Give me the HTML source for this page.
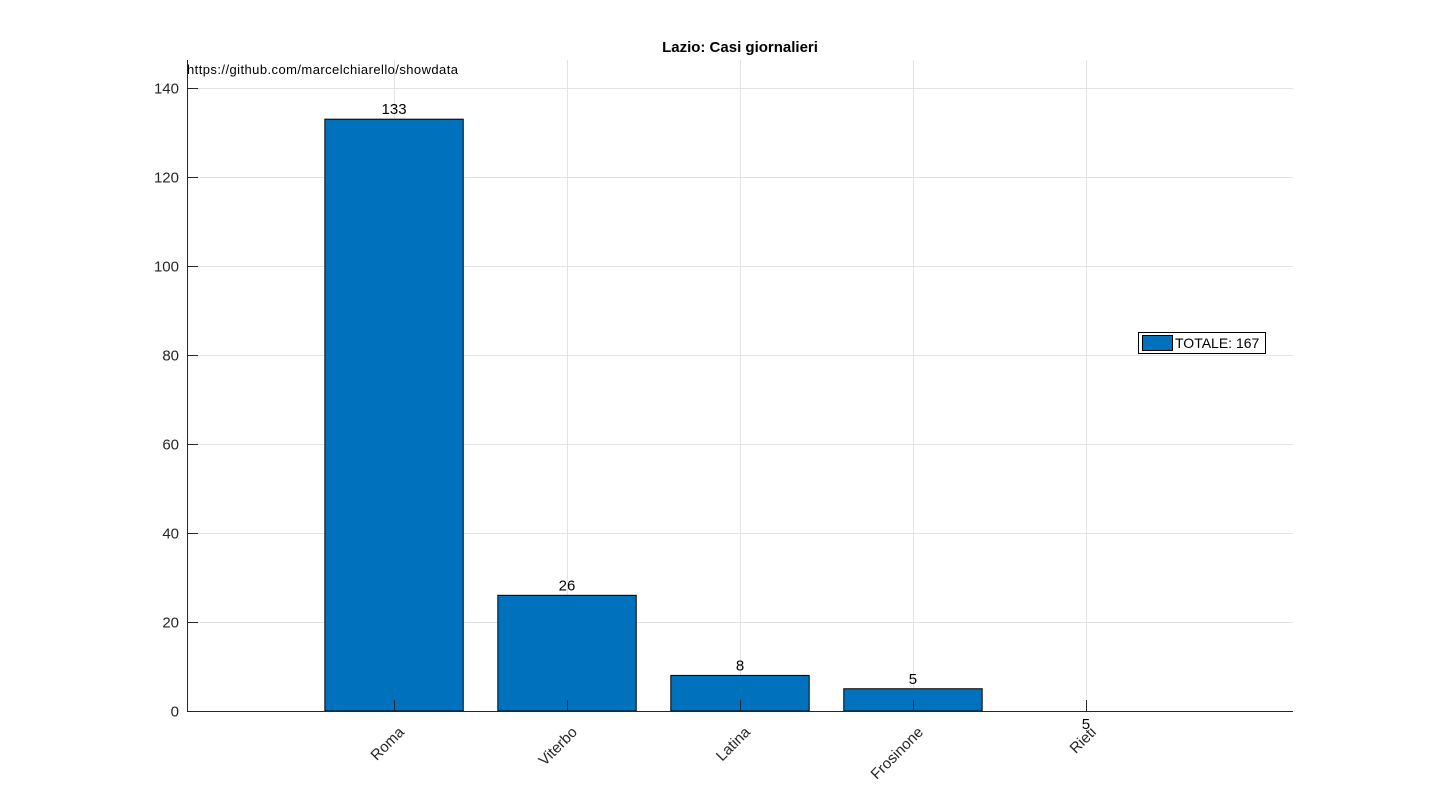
<!DOCTYPE html>
<html><head><meta charset="utf-8"><style>
body{margin:0;background:#fff;width:1430px;height:800px;overflow:hidden}
svg text{font-family:"Liberation Sans",Arial,sans-serif}
</style></head><body>
<svg id="chart" width="1430" height="800" xmlns="http://www.w3.org/2000/svg">
<rect width="1430" height="800" fill="#fff"/>
<text x="740" y="52" text-anchor="middle" font-size="15" font-weight="bold" fill="#000">Lazio: Casi giornalieri</text>
<g id="grid"></g><g id="bars"></g><g id="axes"></g>
<text x="187" y="74" font-size="13" fill="#000" textLength="271">https://github.com/marcelchiarello/showdata</text>
<g>
<rect x="1138.5" y="332.5" width="127" height="21" fill="#fff" stroke="#000" stroke-width="1"/>
<rect x="1142.5" y="335.5" width="30" height="15" fill="#0072BD" stroke="#000" stroke-width="1"/>
<text x="1175" y="348" font-size="14" fill="#000">TOTALE: 167</text>
</g>
</svg>
<script>
const categories=["Roma","Viterbo","Latina","Frosinone","Rieti"];
const values=[133,26,8,5,0];
const valueLabels=["133","26","8","5","5"];
const yTicks=[0,20,40,60,80,100,120,140];
const L=187,R=1293,T=60,B=711,Y0=0,Y1=146.3,X0=1-1.197,X1=5+1.197;
const xs=i=>L+(i+1-X0)/(X1-X0)*(R-L);
const ys=v=>B-(v-Y0)/(Y1-Y0)*(B-T);
const NS="http://www.w3.org/2000/svg";
function mk(tag,attrs,parent,txt){const e=document.createElementNS(NS,tag);for(const k in attrs)e.setAttribute(k,attrs[k]);if(txt!==undefined)e.textContent=txt;parent.appendChild(e);return e;}
const grid=document.getElementById('grid'),bars=document.getElementById('bars'),axes=document.getElementById('axes');
const uw=(R-L)/(X1-X0);
yTicks.forEach(v=>{const y=Math.round(ys(v))+0.5;
 const g=mk('line',{x1:L,x2:R,y1:y,y2:y,stroke:'#e3e3e3','stroke-width':1},grid);
 
 const t=mk('line',{x1:L,x2:L+11,y1:y,y2:y,stroke:'#262626','stroke-width':1},axes);
 
 const l=mk('text',{x:L-8,y:y+5,'text-anchor':'end','font-size':15,fill:'#262626'},axes,String(v));
 
});
categories.forEach((c,i)=>{const x=Math.round(xs(i))+0.5;
 const g=mk('line',{x1:x,x2:x,y1:T,y2:B,stroke:'#e3e3e3','stroke-width':1},grid);
 
 const w=0.8*uw,y=ys(values[i]);
 const b=mk('rect',{x:xs(i)-w/2,y:Math.min(y,B),width:w,height:Math.abs(B-y),fill:'#0072BD',stroke:'#000','stroke-width':1},bars);
 
 const vl=mk('text',{x:xs(i),y:values[i]>0?y-5:B+18,'text-anchor':'middle','font-size':15,fill:'#000'},axes,valueLabels[i]);
 
 const t=mk('line',{x1:x,x2:x,y1:B-11,y2:B,stroke:'#262626','stroke-width':1},axes);
 
 const ax=xs(i)+11,ay=B+22;
 const l=mk('text',{x:ax,y:ay,'text-anchor':'end','font-size':15,fill:'#262626',transform:`rotate(-45 ${ax} ${ay})`},axes,c);
 
});
const xa=mk('line',{x1:L,x2:R,y1:B+0.5,y2:B+0.5,stroke:'#262626','stroke-width':1},axes);

const ya=mk('line',{x1:L+0.5,x2:L+0.5,y1:T,y2:B+1,stroke:'#262626','stroke-width':1},axes);

</script>
</body></html>
